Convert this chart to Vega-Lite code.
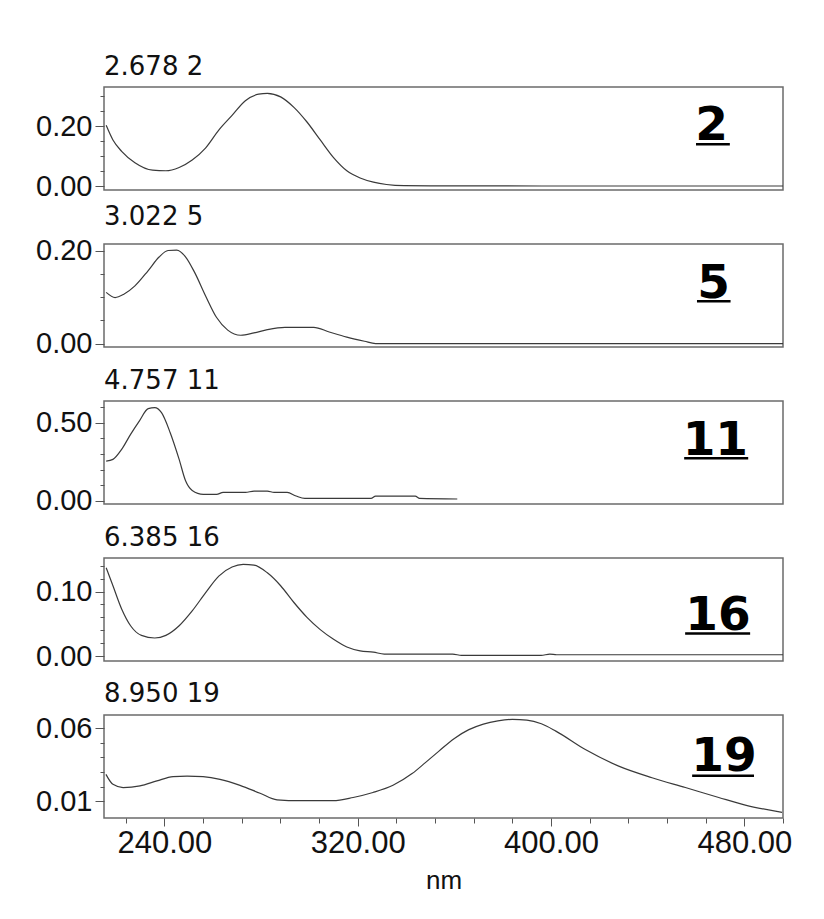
{
  "$schema": "https://vega.github.io/schema/vega-lite/v6.json",
  "background": "white",
  "padding": {"left": 34, "top": 53, "right": 5, "bottom": 5},
  "bounds": "flush",
  "spacing": 54,
  "datasets": {
    "spectra": [
      {"panel": 1, "nm": 215.9, "abs": 0.203}, {"panel": 1, "nm": 218.7, "abs": 0.154}, {"panel": 1, "nm": 222.3, "abs": 0.116}, {"panel": 1, "nm": 227.8, "abs": 0.078}, {"panel": 1, "nm": 235.1, "abs": 0.053}, {"panel": 1, "nm": 240.6, "abs": 0.051}, {"panel": 1, "nm": 246.1, "abs": 0.062}, {"panel": 1, "nm": 251.5, "abs": 0.087}, {"panel": 1, "nm": 257.0, "abs": 0.127}, {"panel": 1, "nm": 262.5, "abs": 0.187}, {"panel": 1, "nm": 268.0, "abs": 0.236}, {"panel": 1, "nm": 273.5, "abs": 0.285}, {"panel": 1, "nm": 279.0, "abs": 0.307}, {"panel": 1, "nm": 282.6, "abs": 0.310}, {"panel": 1, "nm": 288.1, "abs": 0.298}, {"panel": 1, "nm": 293.6, "abs": 0.263}, {"panel": 1, "nm": 299.0, "abs": 0.214}, {"panel": 1, "nm": 304.5, "abs": 0.154}, {"panel": 1, "nm": 310.0, "abs": 0.095}, {"panel": 1, "nm": 315.5, "abs": 0.051}, {"panel": 1, "nm": 321.0, "abs": 0.027}, {"panel": 1, "nm": 326.5, "abs": 0.013}, {"panel": 1, "nm": 331.9, "abs": 0.005}, {"panel": 1, "nm": 339.2, "abs": 0.001}, {"panel": 1, "nm": 360.0, "abs": 0.0005}, {"panel": 1, "nm": 400.0, "abs": 0.0}, {"panel": 1, "nm": 450.0, "abs": 0.0}, {"panel": 1, "nm": 496.0, "abs": 0.0},
      {"panel": 2, "nm": 215.9, "abs": 0.110}, {"panel": 2, "nm": 219.6, "abs": 0.099}, {"panel": 2, "nm": 223.2, "abs": 0.106}, {"panel": 2, "nm": 227.8, "abs": 0.124}, {"panel": 2, "nm": 233.3, "abs": 0.157}, {"panel": 2, "nm": 237.8, "abs": 0.186}, {"panel": 2, "nm": 241.5, "abs": 0.200}, {"panel": 2, "nm": 245.1, "abs": 0.201}, {"panel": 2, "nm": 248.8, "abs": 0.186}, {"panel": 2, "nm": 252.5, "abs": 0.153}, {"panel": 2, "nm": 257.0, "abs": 0.103}, {"panel": 2, "nm": 261.6, "abs": 0.056}, {"panel": 2, "nm": 266.2, "abs": 0.029}, {"panel": 2, "nm": 271.6, "abs": 0.018}, {"panel": 2, "nm": 277.1, "abs": 0.023}, {"panel": 2, "nm": 282.6, "abs": 0.030}, {"panel": 2, "nm": 289.9, "abs": 0.035}, {"panel": 2, "nm": 301.8, "abs": 0.035}, {"panel": 2, "nm": 308.2, "abs": 0.025}, {"panel": 2, "nm": 315.5, "abs": 0.014}, {"panel": 2, "nm": 322.8, "abs": 0.005}, {"panel": 2, "nm": 327.4, "abs": 0.0}, {"panel": 2, "nm": 400.0, "abs": 0.0}, {"panel": 2, "nm": 496.0, "abs": 0.0},
      {"panel": 3, "nm": 215.9, "abs": 0.254}, {"panel": 3, "nm": 218.7, "abs": 0.265}, {"panel": 3, "nm": 222.3, "abs": 0.329}, {"panel": 3, "nm": 226.0, "abs": 0.425}, {"panel": 3, "nm": 229.6, "abs": 0.510}, {"panel": 3, "nm": 233.3, "abs": 0.590}, {"panel": 3, "nm": 236.0, "abs": 0.596}, {"panel": 3, "nm": 238.8, "abs": 0.564}, {"panel": 3, "nm": 242.4, "abs": 0.436}, {"panel": 3, "nm": 246.1, "abs": 0.265}, {"panel": 3, "nm": 248.8, "abs": 0.126}, {"panel": 3, "nm": 251.5, "abs": 0.066}, {"panel": 3, "nm": 256.1, "abs": 0.041}, {"panel": 3, "nm": 261.6, "abs": 0.041}, {"panel": 3, "nm": 264.3, "abs": 0.053}, {"panel": 3, "nm": 273.5, "abs": 0.053}, {"panel": 3, "nm": 277.1, "abs": 0.062}, {"panel": 3, "nm": 282.6, "abs": 0.062}, {"panel": 3, "nm": 285.4, "abs": 0.053}, {"panel": 3, "nm": 290.8, "abs": 0.053}, {"panel": 3, "nm": 294.5, "abs": 0.030}, {"panel": 3, "nm": 298.1, "abs": 0.015}, {"panel": 3, "nm": 325.5, "abs": 0.015}, {"panel": 3, "nm": 327.4, "abs": 0.030}, {"panel": 3, "nm": 343.8, "abs": 0.030}, {"panel": 3, "nm": 345.6, "abs": 0.015}, {"panel": 3, "nm": 361.2, "abs": 0.011},
      {"panel": 4, "nm": 215.9, "abs": 0.137}, {"panel": 4, "nm": 218.7, "abs": 0.109}, {"panel": 4, "nm": 222.3, "abs": 0.073}, {"panel": 4, "nm": 226.0, "abs": 0.047}, {"panel": 4, "nm": 230.5, "abs": 0.032}, {"panel": 4, "nm": 236.0, "abs": 0.028}, {"panel": 4, "nm": 240.6, "abs": 0.032}, {"panel": 4, "nm": 246.1, "abs": 0.047}, {"panel": 4, "nm": 251.5, "abs": 0.070}, {"panel": 4, "nm": 257.0, "abs": 0.098}, {"panel": 4, "nm": 262.5, "abs": 0.124}, {"panel": 4, "nm": 268.0, "abs": 0.138}, {"panel": 4, "nm": 272.6, "abs": 0.142}, {"panel": 4, "nm": 277.1, "abs": 0.141}, {"panel": 4, "nm": 282.6, "abs": 0.129}, {"panel": 4, "nm": 288.1, "abs": 0.109}, {"panel": 4, "nm": 293.6, "abs": 0.083}, {"panel": 4, "nm": 299.0, "abs": 0.060}, {"panel": 4, "nm": 304.5, "abs": 0.041}, {"panel": 4, "nm": 310.0, "abs": 0.026}, {"panel": 4, "nm": 315.5, "abs": 0.014}, {"panel": 4, "nm": 321.0, "abs": 0.008}, {"panel": 4, "nm": 326.5, "abs": 0.006}, {"panel": 4, "nm": 331.0, "abs": 0.003}, {"panel": 4, "nm": 359.3, "abs": 0.003}, {"panel": 4, "nm": 363.0, "abs": 0.001}, {"panel": 4, "nm": 395.9, "abs": 0.001}, {"panel": 4, "nm": 399.5, "abs": 0.003}, {"panel": 4, "nm": 402.3, "abs": 0.002}, {"panel": 4, "nm": 496.0, "abs": 0.002},
      {"panel": 5, "nm": 215.8, "abs": 0.0285}, {"panel": 5, "nm": 218.7, "abs": 0.0217}, {"panel": 5, "nm": 222.9, "abs": 0.0195}, {"panel": 5, "nm": 229.9, "abs": 0.0206}, {"panel": 5, "nm": 236.9, "abs": 0.0240}, {"panel": 5, "nm": 243.6, "abs": 0.0269}, {"panel": 5, "nm": 249.4, "abs": 0.0273}, {"panel": 5, "nm": 256.0, "abs": 0.0269}, {"panel": 5, "nm": 263.0, "abs": 0.0251}, {"panel": 5, "nm": 271.3, "abs": 0.0210}, {"panel": 5, "nm": 279.6, "abs": 0.0156}, {"panel": 5, "nm": 286.6, "abs": 0.0111}, {"panel": 5, "nm": 296.1, "abs": 0.0105}, {"panel": 5, "nm": 309.8, "abs": 0.0105}, {"panel": 5, "nm": 318.1, "abs": 0.0127}, {"panel": 5, "nm": 326.3, "abs": 0.0161}, {"panel": 5, "nm": 334.6, "abs": 0.0210}, {"panel": 5, "nm": 342.5, "abs": 0.0290}, {"panel": 5, "nm": 348.0, "abs": 0.0365}, {"panel": 5, "nm": 353.5, "abs": 0.0442}, {"panel": 5, "nm": 360.0, "abs": 0.0530}, {"panel": 5, "nm": 366.0, "abs": 0.0590}, {"panel": 5, "nm": 372.0, "abs": 0.0628}, {"panel": 5, "nm": 378.0, "abs": 0.0650}, {"panel": 5, "nm": 384.0, "abs": 0.0660}, {"panel": 5, "nm": 390.0, "abs": 0.0655}, {"panel": 5, "nm": 396.0, "abs": 0.0630}, {"panel": 5, "nm": 402.0, "abs": 0.0580}, {"panel": 5, "nm": 414.2, "abs": 0.0454}, {"panel": 5, "nm": 428.0, "abs": 0.0341}, {"panel": 5, "nm": 441.8, "abs": 0.0262}, {"panel": 5, "nm": 455.6, "abs": 0.0195}, {"panel": 5, "nm": 469.4, "abs": 0.0127}, {"panel": 5, "nm": 480.4, "abs": 0.0075}, {"panel": 5, "nm": 495.6, "abs": 0.0026}
    ]
  },
  "config": {
    "view": {"stroke": "#6b6b6b", "strokeWidth": 1.5},
    "axis": {"labelFont": "Liberation Sans", "labelColor": "#111", "labelFontSize": 29, "labelOverlap": false, "tickColor": "#555", "tickWidth": 1, "domain": false, "grid": false, "titleFont": "Liberation Sans", "titleColor": "#111", "title": null},
    "title": {"anchor": "start", "frame": "group", "offset": 7, "baseline": "alphabetic", "fontSize": 26, "font": "DejaVu Sans", "fontWeight": "normal", "color": "#111"},
    "line": {"color": "#3a3a3a", "strokeWidth": 1.2, "interpolate": "monotone"},
    "text": {"font": "DejaVu Sans", "fontWeight": "bold", "fontSize": 47, "align": "center", "baseline": "alphabetic", "color": "#000"},
    "rule": {"color": "#000", "strokeWidth": 2.5}
  },
  "vconcat": [
    {
      "width": 679, "height": 103,
      "title": "2.678 2",
      "resolve": {"axis": {"x": "independent", "y": "independent"}},
      "layer": [
        {"data": {"name": "spectra"}, "transform": [{"filter": "datum.panel == 1"}], "mark": "line",
         "encoding": {
           "x": {"field": "nm", "type": "quantitative", "scale": {"domain": [215, 496], "nice": false, "zero": false}, "axis": null},
           "y": {"field": "abs", "type": "quantitative", "scale": {"domain": [-0.0133, 0.331], "nice": false, "zero": false},
                 "axis": {"orient": "left", "values": [0.05, 0.1, 0.15, 0.25, 0.3], "labels": false, "tickSize": 4}}
         }},
        {"data": {"values": [{"label": "2"}]}, "mark": "text", "encoding": {
           "x": {"datum": 466.5, "type": "quantitative", "scale": {"domain": [215, 496], "nice": false, "zero": false}, "axis": null},
           "y": {"datum": 0.155, "type": "quantitative", "scale": {"domain": [-0.0133, 0.331], "nice": false, "zero": false},
                 "axis": {"orient": "left", "values": [0, 0.2], "format": ".2f", "tickSize": 9, "labelPadding": 3}},
           "text": {"field": "label"}}},
        {"data": {"values": [{"label": "2"}]}, "mark": "rule", "encoding": {
           "x": {"datum": 460, "type": "quantitative", "axis": null}, "x2": {"datum": 474},
           "y": {"datum": 0.14, "type": "quantitative", "axis": null}}}
      ]
    },
    {
      "width": 679, "height": 103,
      "title": "3.022 5",
      "resolve": {"axis": {"x": "independent", "y": "independent"}},
      "layer": [
        {"data": {"name": "spectra"}, "transform": [{"filter": "datum.panel == 2"}], "mark": "line",
         "encoding": {
           "x": {"field": "nm", "type": "quantitative", "scale": {"domain": [215, 496], "nice": false, "zero": false}, "axis": null},
           "y": {"field": "abs", "type": "quantitative", "scale": {"domain": [-0.0073, 0.214], "nice": false, "zero": false},
                 "axis": {"orient": "left", "values": [0.05, 0.1, 0.15], "labels": false, "tickSize": 4}}
         }},
        {"data": {"values": [{"label": "5"}]}, "mark": "text", "encoding": {
           "x": {"datum": 467.3, "type": "quantitative", "scale": {"domain": [215, 496], "nice": false, "zero": false}, "axis": null},
           "y": {"datum": 0.098, "type": "quantitative", "scale": {"domain": [-0.0073, 0.214], "nice": false, "zero": false},
                 "axis": {"orient": "left", "values": [0, 0.2], "format": ".2f", "tickSize": 9, "labelPadding": 3}},
           "text": {"field": "label"}}},
        {"data": {"values": [{"label": "5"}]}, "mark": "rule", "encoding": {
           "x": {"datum": 460.4, "type": "quantitative", "axis": null}, "x2": {"datum": 474.3},
           "y": {"datum": 0.091, "type": "quantitative", "axis": null}}}
      ]
    },
    {
      "width": 679, "height": 103,
      "title": "4.757 11",
      "resolve": {"axis": {"x": "independent", "y": "independent"}},
      "layer": [
        {"data": {"name": "spectra"}, "transform": [{"filter": "datum.panel == 3"}], "mark": "line",
         "encoding": {
           "x": {"field": "nm", "type": "quantitative", "scale": {"domain": [215, 496], "nice": false, "zero": false}, "axis": null},
           "y": {"field": "abs", "type": "quantitative", "scale": {"domain": [-0.021, 0.639], "nice": false, "zero": false},
                 "axis": {"orient": "left", "values": [0.1, 0.2, 0.3, 0.4, 0.6], "labels": false, "tickSize": 4}}
         }},
        {"data": {"values": [{"label": "11"}]}, "mark": "text", "encoding": {
           "x": {"datum": 468, "type": "quantitative", "scale": {"domain": [215, 496], "nice": false, "zero": false}, "axis": null},
           "y": {"datum": 0.295, "type": "quantitative", "scale": {"domain": [-0.021, 0.639], "nice": false, "zero": false},
                 "axis": {"orient": "left", "values": [0, 0.5], "format": ".2f", "tickSize": 9, "labelPadding": 3}},
           "text": {"field": "label"}}},
        {"data": {"values": [{"label": "11"}]}, "mark": "rule", "encoding": {
           "x": {"datum": 455.1, "type": "quantitative", "axis": null}, "x2": {"datum": 481.6},
           "y": {"datum": 0.272, "type": "quantitative", "axis": null}}}
      ]
    },
    {
      "width": 679, "height": 103,
      "title": "6.385 16",
      "resolve": {"axis": {"x": "independent", "y": "independent"}},
      "layer": [
        {"data": {"name": "spectra"}, "transform": [{"filter": "datum.panel == 4"}], "mark": "line",
         "encoding": {
           "x": {"field": "nm", "type": "quantitative", "scale": {"domain": [215, 496], "nice": false, "zero": false}, "axis": null},
           "y": {"field": "abs", "type": "quantitative", "scale": {"domain": [-0.0077, 0.152], "nice": false, "zero": false},
                 "axis": {"orient": "left", "values": [0.02, 0.04, 0.06, 0.08, 0.12, 0.14], "labels": false, "tickSize": 4}}
         }},
        {"data": {"values": [{"label": "16"}]}, "mark": "text", "encoding": {
           "x": {"datum": 469.1, "type": "quantitative", "scale": {"domain": [215, 496], "nice": false, "zero": false}, "axis": null},
           "y": {"datum": 0.041, "type": "quantitative", "scale": {"domain": [-0.0077, 0.152], "nice": false, "zero": false},
                 "axis": {"orient": "left", "values": [0, 0.1], "format": ".2f", "tickSize": 9, "labelPadding": 3}},
           "text": {"field": "label"}}},
        {"data": {"values": [{"label": "16"}]}, "mark": "rule", "encoding": {
           "x": {"datum": 455.5, "type": "quantitative", "axis": null}, "x2": {"datum": 482.4},
           "y": {"datum": 0.035, "type": "quantitative", "axis": null}}}
      ]
    },
    {
      "width": 679, "height": 103,
      "title": "8.950 19",
      "resolve": {"axis": {"x": "independent", "y": "independent"}},
      "layer": [
        {"data": {"name": "spectra"}, "transform": [{"filter": "datum.panel == 5"}], "mark": "line",
         "encoding": {
           "x": {"field": "nm", "type": "quantitative", "scale": {"domain": [215, 496], "nice": false, "zero": false},
                 "axis": {"orient": "bottom", "values": [224, 256, 272, 288, 304, 336, 352, 368, 384, 416, 432, 448, 464, 496], "labels": false, "tickSize": 5}},
           "y": {"field": "abs", "type": "quantitative", "scale": {"domain": [-0.0013, 0.069], "nice": false, "zero": false},
                 "axis": {"orient": "left", "values": [0.02, 0.03, 0.04, 0.05], "labels": false, "tickSize": 4}}
         }},
        {"data": {"values": [{"label": "19"}]}, "mark": "text", "encoding": {
           "x": {"datum": 471.6, "type": "quantitative", "scale": {"domain": [215, 496], "nice": false, "zero": false},
                 "axis": {"orient": "bottom", "title": "nm", "titleFontSize": 26, "titleFontWeight": "normal", "titlePadding": 9, "labelFontSize": 31, "values": [240, 320, 400, 480], "format": ".2f", "tickSize": 8, "labelPadding": 2, "labelFlush": false}},
           "y": {"datum": 0.0305, "type": "quantitative", "scale": {"domain": [-0.0013, 0.069], "nice": false, "zero": false},
                 "axis": {"orient": "left", "values": [0.01, 0.06], "format": ".2f", "tickSize": 9, "labelPadding": 3}},
           "text": {"field": "label"}}},
        {"data": {"values": [{"label": "19"}]}, "mark": "rule", "encoding": {
           "x": {"datum": 458.4, "type": "quantitative", "axis": null}, "x2": {"datum": 484.0},
           "y": {"datum": 0.0275, "type": "quantitative", "axis": null}}}
      ]
    }
  ]
}
